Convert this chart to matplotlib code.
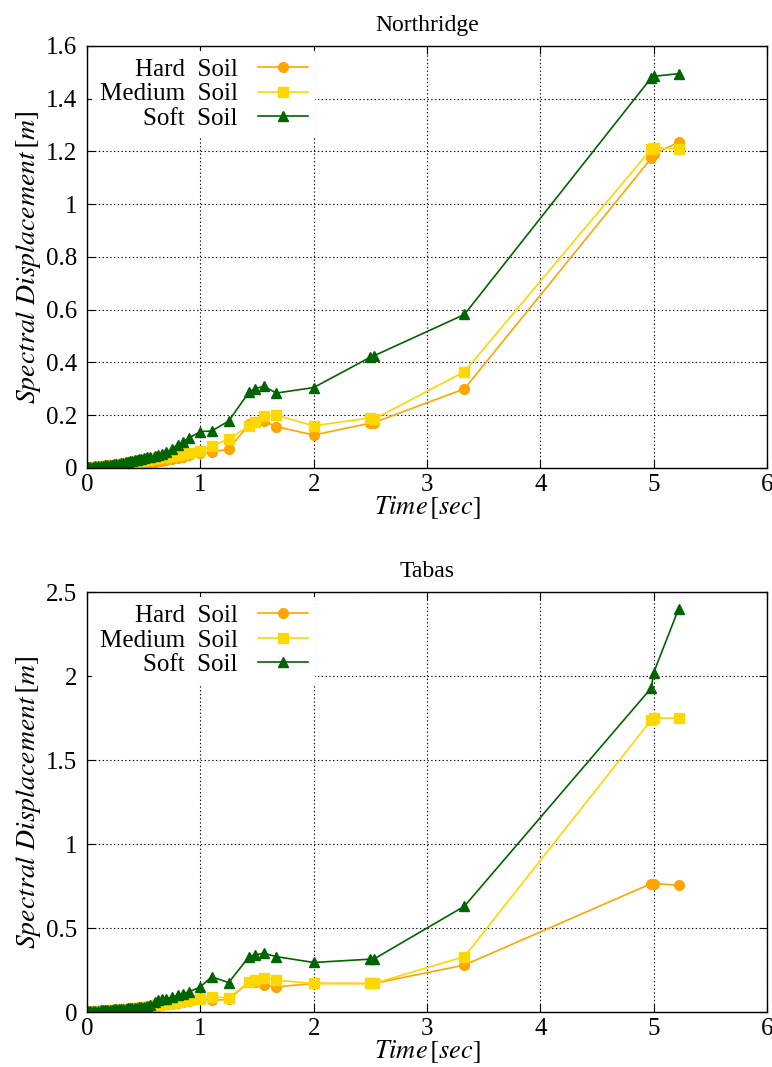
import numpy as np
import matplotlib
matplotlib.use('Agg')
import matplotlib.pyplot as plt

plt.rcParams['font.family'] = ['Liberation Serif']
plt.rcParams['mathtext.fontset'] = 'stix'
plt.rcParams['font.size'] = 13

# periods [sec]
time = [0.01, 0.03, 0.05, 0.07, 0.1, 0.12, 0.14, 0.16, 0.18, 0.2, 0.22, 0.24, 0.26, 0.28,
        0.3, 0.32, 0.34, 0.36, 0.38, 0.4, 0.42, 0.44, 0.46, 0.48, 0.5, 0.53, 0.56, 0.6,
        0.63, 0.66, 0.7, 0.75, 0.8, 0.85, 0.9, 1.0, 1.1, 1.25, 1.43, 1.48, 1.56, 1.67,
        2.0, 2.5, 2.53, 3.33, 4.98, 5.0, 5.22]

# Northridge
nr_hard = [0.0, 0.0, 0.001, 0.001, 0.002, 0.002, 0.003, 0.003, 0.004, 0.004, 0.005, 0.005,
           0.006, 0.006, 0.007, 0.008, 0.009, 0.01, 0.011, 0.012, 0.013, 0.014, 0.015, 0.016,
           0.017, 0.019, 0.021, 0.023, 0.025, 0.027, 0.03, 0.034, 0.038, 0.043, 0.048, 0.057,
           0.06, 0.072, 0.165, 0.175, 0.178, 0.157, 0.125, 0.17, 0.172, 0.30, 1.175, 1.19, 1.235]
nr_medium = [0.001, 0.002, 0.003, 0.004, 0.005, 0.006, 0.007, 0.008, 0.009, 0.01, 0.011, 0.012,
             0.013, 0.014, 0.015, 0.016, 0.018, 0.019, 0.021, 0.022, 0.024, 0.025, 0.027, 0.028,
             0.03, 0.032, 0.034, 0.036, 0.038, 0.04, 0.043, 0.046, 0.05, 0.054, 0.058, 0.064,
             0.083, 0.11, 0.16, 0.175, 0.197, 0.20, 0.16, 0.19, 0.185, 0.365, 1.21, 1.215, 1.21]
nr_soft = [0.003, 0.004, 0.005, 0.006, 0.007, 0.008, 0.009, 0.01, 0.011, 0.012, 0.013, 0.014,
           0.015, 0.017, 0.019, 0.02, 0.022, 0.024, 0.026, 0.028, 0.03, 0.031, 0.033, 0.035,
           0.037, 0.04, 0.043, 0.047, 0.05, 0.052, 0.06, 0.072, 0.088, 0.1, 0.114, 0.138,
           0.14, 0.178, 0.288, 0.30, 0.31, 0.284, 0.305, 0.42, 0.425, 0.582, 1.48, 1.485, 1.495]

# Tabas
tb_hard = [0.0, 0.0, 0.001, 0.001, 0.002, 0.002, 0.003, 0.003, 0.004, 0.004, 0.005, 0.006,
           0.007, 0.008, 0.009, 0.01, 0.011, 0.012, 0.013, 0.014, 0.016, 0.018, 0.02, 0.022,
           0.024, 0.026, 0.028, 0.032, 0.036, 0.04, 0.045, 0.05, 0.055, 0.06, 0.068, 0.08,
           0.07, 0.075, 0.18, 0.18, 0.16, 0.15, 0.17, 0.17, 0.17, 0.28, 0.765, 0.765, 0.755]
tb_medium = [0.001, 0.002, 0.003, 0.004, 0.005, 0.006, 0.007, 0.008, 0.009, 0.01, 0.011, 0.012,
             0.013, 0.014, 0.015, 0.016, 0.018, 0.019, 0.021, 0.022, 0.024, 0.025, 0.027, 0.028,
             0.03, 0.033, 0.036, 0.04, 0.043, 0.046, 0.05, 0.055, 0.06, 0.065, 0.07, 0.08,
             0.09, 0.085, 0.18, 0.19, 0.20, 0.19, 0.17, 0.17, 0.17, 0.33, 1.74, 1.75, 1.75]
tb_soft = [0.005, 0.006, 0.007, 0.008, 0.009, 0.01, 0.011, 0.012, 0.013, 0.014, 0.015, 0.016,
           0.017, 0.018, 0.019, 0.02, 0.021, 0.022, 0.023, 0.024, 0.025, 0.027, 0.029, 0.031,
           0.033, 0.036, 0.04, 0.06, 0.07, 0.075, 0.08, 0.09, 0.1, 0.11, 0.12, 0.15,
           0.21, 0.175, 0.33, 0.34, 0.35, 0.33, 0.295, 0.315, 0.315, 0.63, 1.93, 2.02, 2.40]

labels = ['Hard  Soil', 'Medium  Soil', 'Soft  Soil']
colors = ['#FFA500', '#FFD700', '#006400']
markers = ['o', 's', '^']

fig = plt.figure(figsize=(7.72, 10.67), dpi=100)
ax1 = fig.add_axes([0.1127, 0.5614, 0.8808, 0.3955])
ax2 = fig.add_axes([0.1127, 0.0515, 0.8808, 0.3936])


def draw(ax, series, title, ymax, ystep):
    for y, lab, c, m in zip(series, labels, colors, markers):
        ax.plot(time, y, color=c, marker=m, markersize=7, lw=1.2, label=lab)
    ax.set_xlim(0, 6)
    ax.set_ylim(0, ymax)
    ax.set_xticks(np.arange(0, 7, 1))
    yt = np.arange(0, ymax + ystep / 2, ystep)
    ax.set_yticks(yt)
    ax.set_yticklabels(['%g' % round(v, 2) for v in yt])
    ax.grid(True, color='black', linestyle=(0, (1.2, 2.2)), lw=0.8)
    ax.tick_params(direction='in', top=True, right=True, length=6, labelsize=18, pad=7)
    ax.tick_params(axis='x', pad=4)
    ax.set_title(title, fontsize=17, pad=11)
    ax.set_xlabel(r'$Time\,[sec]$', fontsize=19, labelpad=-1)
    ax.set_ylabel(r'$Spectral\ Displacement\,[m]$', fontsize=20, labelpad=2)
    for s in ax.spines.values():
        s.set_linewidth(1.0)
    leg = ax.legend(loc='upper left', markerfirst=False, frameon=True, fancybox=False,
                    edgecolor='none', facecolor='white', framealpha=1, fontsize=18,
                    handlelength=2.0, handletextpad=0.8, borderaxespad=0.2,
                    labelspacing=0.08, borderpad=0.3)
    for t in leg.get_texts():
        t.set_ha('right')
    leg._legend_box.align = 'right'


draw(ax1, [nr_hard, nr_medium, nr_soft], 'Northridge', 1.6, 0.2)
draw(ax2, [tb_hard, tb_medium, tb_soft], 'Tabas', 2.5, 0.5)

fig.savefig('out.png', dpi=100)
